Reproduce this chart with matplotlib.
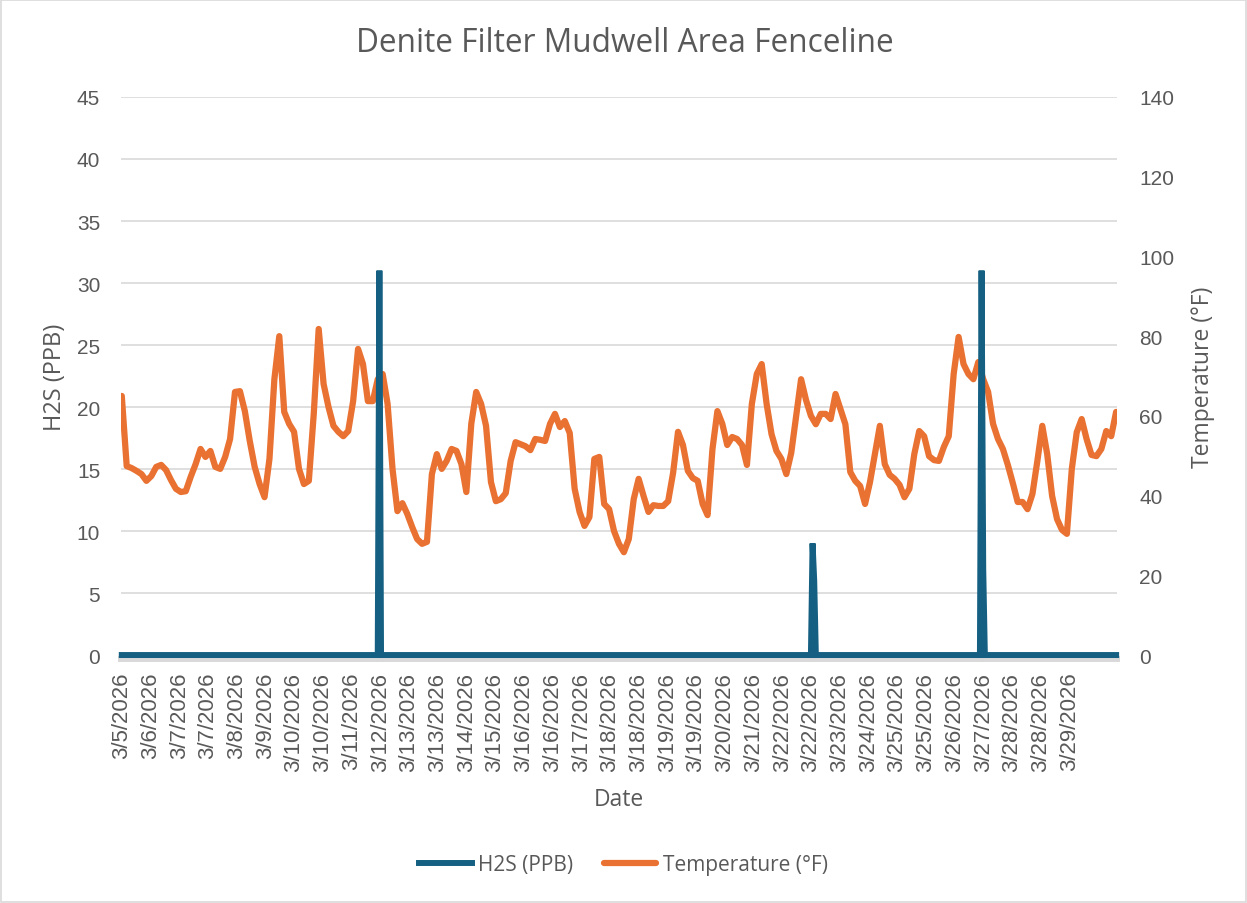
import numpy as np
import matplotlib
matplotlib.use("Agg")
import matplotlib.pyplot as plt
from matplotlib.patches import Rectangle

# Hourly readings, 3/5/2026 ~12:00 onward (607 hourly categories)
n_hours = 607

# H2S (PPB): zero everywhere except these hours
h2s_hours = [157, 421, 422, 524, 525]
h2s_spikes = [31, 9, 6, 31, 7]

# Temperature (F), read every 3 hours
temp_step = 3
temperature = [
    65.0, 47.4, 46.9, 46.2, 45.4, 43.7, 44.9, 47.2, 47.7, 46.4,
    43.9, 41.7, 40.9, 41.1, 44.7, 47.9, 51.7, 49.7, 51.2, 47.2,
    46.7, 49.7, 54.2, 66.0, 66.2, 61.2, 53.7, 47.2, 42.9, 39.6,
    49.2, 69.2, 80.0, 61.0, 58.0, 56.0, 46.7, 42.9, 43.7, 60.5,
    81.8, 68.0, 62.2, 57.5, 56.0, 54.9, 56.2, 63.7, 76.8, 73.0,
    63.7, 63.7, 69.2, 70.5, 63.0, 46.7, 36.1, 38.1, 35.4, 32.1,
    29.1, 27.9, 28.4, 45.4, 50.4, 46.7, 48.7, 51.7, 51.2, 47.9,
    40.9, 58.0, 66.0, 63.0, 57.5, 43.4, 38.6, 39.1, 40.6, 48.7,
    53.4, 52.9, 52.4, 51.4, 54.2, 54.0, 53.7, 58.0, 60.5, 57.2,
    58.7, 55.7, 41.7, 35.9, 32.4, 34.6, 49.2, 49.7, 37.9, 36.6,
    31.1, 27.9, 25.8, 29.1, 39.1, 44.2, 39.9, 35.9, 37.6, 37.4,
    37.4, 38.6, 45.7, 56.0, 52.7, 46.2, 44.4, 43.7, 37.9, 35.1,
    51.7, 61.2, 58.0, 52.7, 54.7, 54.2, 52.7, 47.7, 63.0, 70.5,
    73.0, 63.0, 55.4, 51.2, 49.2, 45.4, 50.7, 60.0, 69.2, 64.0,
    60.0, 57.9, 60.5, 60.5, 59.2, 65.5, 61.7, 57.9, 45.9, 43.7,
    42.4, 37.9, 43.4, 50.4, 57.5, 47.9, 45.2, 44.2, 42.7, 39.6,
    41.7, 50.4, 56.2, 54.9, 49.9, 48.9, 48.7, 52.2, 54.9, 70.5,
    79.8, 73.0, 70.5, 69.2, 73.5, 69.2, 66.0, 58.0, 54.2, 51.7,
    47.7, 43.2, 38.4, 38.4, 36.6, 40.4, 48.7, 57.5, 50.4, 39.9,
    34.1, 31.4, 30.4, 46.7, 55.9, 59.2, 54.2, 50.2, 49.9, 51.7,
    56.2, 54.9, 61.0,
]

# category labels as Excel shows them along the axis
label_step = 17.5
date_labels = [
    "3/5/2026", "3/6/2026", "3/7/2026", "3/7/2026", "3/8/2026", "3/9/2026",
    "3/10/2026", "3/10/2026", "3/11/2026", "3/12/2026", "3/13/2026", "3/13/2026",
    "3/14/2026", "3/15/2026", "3/16/2026", "3/16/2026", "3/17/2026", "3/18/2026",
    "3/18/2026", "3/19/2026", "3/19/2026", "3/20/2026", "3/21/2026", "3/22/2026",
    "3/22/2026", "3/23/2026", "3/24/2026", "3/25/2026", "3/25/2026", "3/26/2026",
    "3/27/2026", "3/28/2026", "3/28/2026", "3/29/2026",
]

blue = "#156082"
orange = "#E97132"
grey = "#595959"
title_font = ["Open Sans", "DejaVu Sans"]
tick_font = ["Liberation Sans", "DejaVu Sans"]

h2s = np.zeros(n_hours)
h2s[h2s_hours] = h2s_spikes
hours = np.arange(n_hours)
temp_hours = np.arange(len(temperature)) * temp_step

fig = plt.figure(figsize=(12.47, 9.04), dpi=100)
ax = fig.add_axes([0.097, 0.2743, 0.7987, 0.6173])
ax_t = ax.twinx()
ax_h = ax.twinx()

# gridlines on the bottom axes
ax.set_ylim(0, 45)
ax.set_yticks(np.arange(0, 46, 5))
ax.grid(axis="y", color="#D9D9D9", linewidth=1.2)
ax.set_axisbelow(True)

ax_t.plot(temp_hours, temperature, color=orange, linewidth=4.5,
          solid_joinstyle="round", solid_capstyle="round", label="Temperature (°F)")
ax_t.set_ylim(0, 140)
ax_t.set_yticks(np.arange(0, 141, 20))

ax_h.plot(hours, h2s, color=blue, linewidth=4.3, clip_on=False,
          solid_joinstyle="miter", label="H2S (PPB)")
ax_h.set_ylim(0, 45)
ax_h.set_yticks([])

for a in (ax, ax_t, ax_h):
    a.set_xlim(-0.5, n_hours - 0.5)
    for s in a.spines.values():
        s.set_visible(False)

ax.spines["bottom"].set_visible(True)
ax.spines["bottom"].set_color("#D9D9D9")
ax.spines["bottom"].set_linewidth(4.3)
ax.spines["bottom"].set_position(("outward", 3))

ax.set_xticks(np.arange(len(date_labels)) * label_step)
ax.set_xticklabels(date_labels, rotation=90, family=tick_font, fontsize=16, color=grey)
ax.tick_params(axis="x", length=0, pad=9)
ax.tick_params(axis="y", length=0, pad=15, labelsize=15, labelcolor=grey)
ax_t.tick_params(axis="y", length=0, pad=16, labelsize=15, labelcolor=grey)
for lab in ax.get_yticklabels() + ax_t.get_yticklabels():
    lab.set_family(tick_font)

ax.set_xlabel("Date", family=title_font, fontsize=16.5, color=grey, labelpad=12)
ax.set_ylabel("H2S (PPB)", family=title_font, fontsize=17, color=grey, labelpad=7)
ax_t.set_ylabel("Temperature (°F)", family=title_font, fontsize=16.5, color=grey, labelpad=12)

fig.text(0.501, 1 - 44 / 904, "Denite Filter Mudwell Area Fenceline", ha="center", va="center",
         family=title_font, fontsize=22.8, color=grey)

handles = ax_h.get_lines() + ax_t.get_lines()
fig.legend(handles, [h.get_label() for h in handles], loc="center",
           bbox_to_anchor=(0.5, 1 - 866 / 904), ncol=2, frameon=False,
           prop={"family": title_font, "size": 15}, labelcolor=grey,
           handlelength=2.5, columnspacing=1.5, handletextpad=0.3)

fig.add_artist(Rectangle((0.001, 0.001), 0.998, 0.998, transform=fig.transFigure,
                         fill=False, edgecolor="#D9D9D9", linewidth=1.2))

fig.savefig("out.png", dpi=100)
